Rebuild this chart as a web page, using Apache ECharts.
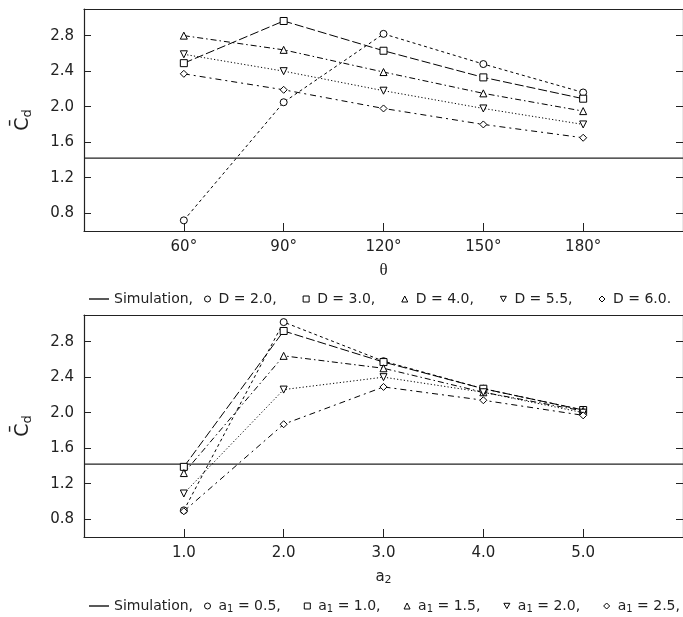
<!DOCTYPE html>
<html><head><meta charset="utf-8">
<script src="https://cdn.jsdelivr.net/npm/echarts@6/dist/echarts.min.js"></script>
<style>html,body{margin:0;padding:0;background:#fff}#c{width:683px;height:617px}</style>
</head><body><div id="c"></div><script>
// ---- data ----
const thetaCats = [60, 90, 120, 150, 180];
const dNames = ['D = 2.0', 'D = 3.0', 'D = 4.0', 'D = 5.5', 'D = 6.0'];
const cdD20 = [0.72, 2.05, 2.82, 2.48, 2.16];
const cdD30 = [2.49, 2.965, 2.63, 2.33, 2.09];
const cdD40 = [2.80, 2.64, 2.39, 2.15, 1.95];
const cdD55 = [2.59, 2.40, 2.18, 1.98, 1.80];
const cdD60 = [2.37, 2.19, 1.98, 1.80, 1.65];
const a2Cats = [1.0, 2.0, 3.0, 4.0, 5.0];
const a1Values = ['0.5', '1.0', '1.5', '2.0', '2.5'];
const a1Names = a1Values.map(v => 'a1 = ' + v);
const cdA05 = [0.90, 3.02, 2.58, 2.27, 2.03];
const cdA10 = [1.39, 2.92, 2.57, 2.27, 2.03];
const cdA15 = [1.32, 2.64, 2.50, 2.23, 2.02];
const cdA20 = [1.09, 2.26, 2.40, 2.23, 2.00];
const cdA25 = [0.89, 1.87, 2.29, 2.14, 1.97];
const simulationCd = 1.42;
const yTickLabels = [0.8, 1.2, 1.6, 2.0, 2.4, 2.8];
const thetaRange = [30, 210];
const a2Range = [0, 6];
const cdRange = [0.6, 3.1];

// ---- styles ----
const FONT = 'DejaVu Sans';
const INK = '#222';
const symbols = ['circle', 'rect', 'triangle', 'path://M0,0L10,0L5,9Z', 'diamond'];
const dashes = [[3, 3], [9, 3], [6, 3, 1.5, 3], [1.2, 2.2], [6, 4, 2, 4]];
const subRich = {
  t: {fontFamily: FONT, fontSize: 14, color: INK},
  s: {fontFamily: FONT, fontSize: 10, color: INK, padding: [7, 0, 0, 0]}
};

const chart = echarts.init(document.getElementById('c'), null, {renderer: 'canvas'});

function xAxes(gridIndex, range, ticks, fmt, name, nameStyle) {
  return [{
    type: 'value', gridIndex, min: range[0], max: range[1], position: 'bottom',
    axisLine: {show: true, onZero: false, lineStyle: {color: INK, width: 1.2}},
    axisTick: {show: true, inside: true, length: 8, customValues: ticks, lineStyle: {color: INK}},
    axisLabel: {show: true, customValues: ticks, formatter: fmt, color: INK, fontFamily: FONT, fontSize: 15, margin: 9},
    splitLine: {show: false},
    name, nameLocation: 'middle', nameGap: 31,
    nameTextStyle: nameStyle
  }, {
    type: 'value', gridIndex, min: range[0], max: range[1], position: 'top',
    axisLine: {show: true, onZero: false, lineStyle: {color: INK, width: 1.2}},
    axisTick: {show: false}, axisLabel: {show: false}, splitLine: {show: false}
  }];
}
function yAxes(gridIndex) {
  const nameRich = {
    c: {fontFamily: FONT, fontSize: 19, color: INK},
    s: {fontFamily: FONT, fontSize: 13, color: INK, padding: [9, 0, 0, 0]}
  };
  return [{
    type: 'value', gridIndex, min: cdRange[0], max: cdRange[1], position: 'left',
    axisLine: {show: true, onZero: false, lineStyle: {color: INK, width: 1.2}},
    axisTick: {show: true, inside: true, length: 7, customValues: yTickLabels, lineStyle: {color: INK}},
    axisLabel: {show: true, customValues: yTickLabels, formatter: v => v.toFixed(1), color: INK, fontFamily: FONT, fontSize: 15, margin: 10},
    splitLine: {show: false},
    name: '{c|C\u0304}{s|d}', nameLocation: 'middle', nameGap: 50, nameRotate: 90,
    nameTextStyle: {rich: nameRich}
  }, {
    type: 'value', gridIndex, min: cdRange[0], max: cdRange[1], position: 'right',
    axisLine: {show: true, onZero: false, lineStyle: {color: INK, width: 1.2}},
    axisTick: {show: true, inside: true, length: 7, customValues: yTickLabels, lineStyle: {color: INK}},
    axisLabel: {show: false}, splitLine: {show: false}
  }];
}

function markerSeries(names, cats, valuesList, xi, yi) {
  return valuesList.map((vals, i) => ({
    type: 'line', name: names[i], xAxisIndex: xi, yAxisIndex: yi,
    data: cats.map((c, k) => [c, vals[k]]),
    symbol: symbols[i], symbolSize: 7,
    itemStyle: {color: '#fff', borderColor: '#000', borderWidth: 1},
    lineStyle: {color: '#000', width: 1, type: dashes[i]},
    emphasis: {disabled: true}, z: 3
  }));
}
function simSeries(range, xi, yi) {
  return {
    type: 'line', name: 'Simulation', xAxisIndex: xi, yAxisIndex: yi,
    data: [[range[0], simulationCd], [range[1], simulationCd]],
    symbol: 'none', lineStyle: {color: INK, width: 1.3, type: 'solid'},
    itemStyle: {color: INK}, emphasis: {disabled: true}, z: 2
  };
}

const legendText = {fontFamily: FONT, fontSize: 14, color: INK, rich: subRich};
function legends(top, names, fmt, gap) {
  return [{
    left: 84, top, itemWidth: 20, itemHeight: 1.5, itemGap: 0,
    data: [{name: 'Simulation', icon: 'rect', itemStyle: {color: INK, borderWidth: 0}}],
    formatter: n => n + ',', textStyle: legendText, selectedMode: false
  }, {
    left: 199, top, width: 520, itemWidth: 6, itemHeight: 6, itemGap: gap,
    data: names.map((n, i) => ({name: n, icon: symbols[i], itemStyle: {color: '#fff', borderColor: '#000', borderWidth: 1}})),
    formatter: fmt,
    textStyle: Object.assign({padding: [0, 0, 0, 3]}, legendText), selectedMode: false
  }];
}

const thetaName = {fontFamily: 'Liberation Serif', fontSize: 17, color: INK};
const a2Name = {rich: {
  t: {fontFamily: FONT, fontSize: 15, color: INK},
  s: {fontFamily: FONT, fontSize: 11, color: INK, padding: [7, 0, 0, 0]}
}};

chart.setOption({
  animation: false,
  backgroundColor: '#fff',
  grid: [
    {left: 84, top: 9, right: -1, height: 222},
    {left: 84, top: 315, right: -1, height: 222}
  ],
  xAxis: [
    ...xAxes(0, thetaRange, thetaCats, v => v + '\u00B0', '\u03B8', thetaName),
    ...xAxes(1, a2Range, a2Cats, v => v.toFixed(1), '{t|a}{s|2}', a2Name)
  ],
  yAxis: [...yAxes(0), ...yAxes(1)],
  legend: [
    ...legends(287, dNames, n => n + (n === dNames[dNames.length - 1] ? '.' : ','), 26),
    ...legends(594, a1Names, n => '{t|a}{s|1}{t|' + n.slice(2) + ',}', 23)
  ],
  series: [
    simSeries(thetaRange, 0, 0),
    ...markerSeries(dNames, thetaCats, [cdD20, cdD30, cdD40, cdD55, cdD60], 0, 0),
    simSeries(a2Range, 2, 2),
    ...markerSeries(a1Names, a2Cats, [cdA05, cdA10, cdA15, cdA20, cdA25], 2, 2)
  ]
});
</script></body></html>
